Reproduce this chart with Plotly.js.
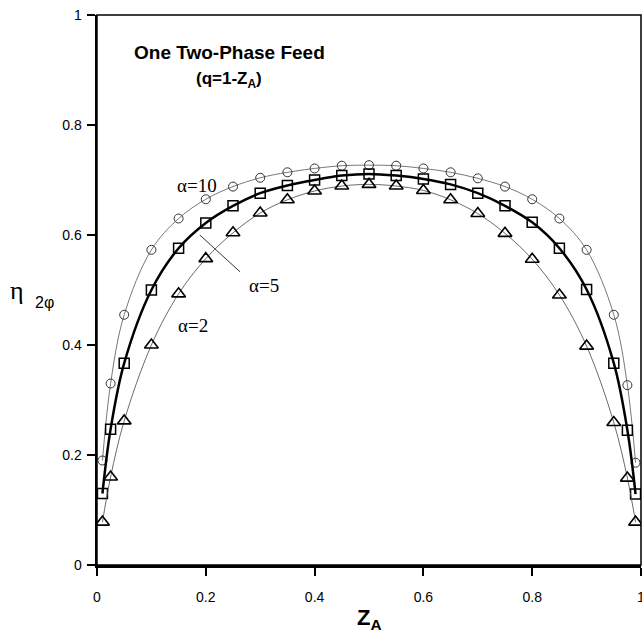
<!DOCTYPE html>
<html>
<head>
<meta charset="utf-8">
<script src="https://cdn.plot.ly/plotly-3.0.1.min.js"></script>
<style>html,body{margin:0;padding:0;background:#fff;}#chart{width:642px;height:638px;}</style>
</head>
<body>
<div id="chart"></div>
<script>
// Feed composition Z_A
var zA = [0.01, 0.025, 0.05, 0.1, 0.15, 0.2, 0.25, 0.3, 0.35, 0.4, 0.45, 0.5, 0.55, 0.6, 0.65, 0.7, 0.75, 0.8, 0.85, 0.9, 0.95, 0.975, 0.99];
// Efficiency eta_2phi for each relative volatility
var etaAlpha10 = [0.19, 0.33, 0.455, 0.573, 0.63, 0.665, 0.688, 0.704, 0.714, 0.721, 0.726, 0.727, 0.726, 0.721, 0.714, 0.703, 0.688, 0.665, 0.63, 0.573, 0.455, 0.327, 0.186];
var etaAlpha5 = [0.13, 0.247, 0.367, 0.50, 0.576, 0.622, 0.653, 0.676, 0.69, 0.70, 0.708, 0.711, 0.708, 0.702, 0.692, 0.676, 0.653, 0.623, 0.576, 0.501, 0.367, 0.245, 0.129];
var etaAlpha2 = [0.078, 0.16, 0.262, 0.40, 0.493, 0.557, 0.604, 0.64, 0.664, 0.68, 0.689, 0.692, 0.689, 0.681, 0.664, 0.639, 0.603, 0.556, 0.491, 0.398, 0.259, 0.158, 0.078];
var xTicks = [0, 0.2, 0.4, 0.6, 0.8, 1];
var yTicks = [0, 0.2, 0.4, 0.6, 0.8, 1];

var traces = [
  {x: zA, y: etaAlpha10, mode: 'lines+markers', line: {shape: 'spline', color: '#555', width: 0.8},
   marker: {symbol: 'circle-open', size: 9, color: '#333', line: {width: 1}}},
  {x: zA, y: etaAlpha5, mode: 'lines+markers', line: {shape: 'spline', color: '#000', width: 2.5},
   marker: {symbol: 'square-open', size: 10, color: '#000', line: {width: 1.5}}},
  {x: zA, y: etaAlpha2, mode: 'lines+markers', line: {shape: 'spline', color: '#444', width: 0.8},
   marker: {symbol: 'triangle-up-open', size: 12, color: '#000', line: {width: 1.6}}}
];

var tickFont = {family: 'Liberation Sans, Arial, sans-serif', size: 14, color: '#000'};
var serif = 'Liberation Serif, Times New Roman, serif';
var sans = 'Liberation Sans, Arial, sans-serif';
var layout = {
  width: 642, height: 638,
  margin: {l: 97, r: 1, t: 15, b: 73},
  paper_bgcolor: '#fff', plot_bgcolor: '#fff',
  showlegend: false,
  xaxis: {range: [0, 1], tickvals: xTicks, ticktext: xTicks.map(String), showgrid: false, zeroline: false,
          showline: true, linewidth: 2.5, linecolor: '#000', ticks: 'outside', ticklen: 8, tickwidth: 2,
          tickcolor: '#000', tickfont: tickFont, ticklabelstandoff: 10, ticklabeloverflow: 'allow'},
  yaxis: {range: [0, 1], tickvals: yTicks, ticktext: yTicks.map(String), showgrid: false, zeroline: false,
          showline: true, linewidth: 2.5, linecolor: '#000', ticks: 'outside', ticklen: 8, tickwidth: 2,
          tickcolor: '#000', tickfont: tickFont, ticklabelstandoff: 2, ticklabeloverflow: 'allow'},
  shapes: [
    {type: 'rect', xref: 'paper', yref: 'paper', x0: 0, x1: 1, y0: 0, y1: 1, line: {color: '#000', width: 1.5}},
    {type: 'line', xref: 'x', yref: 'y', x0: 0.189, y0: 0.60, x1: 0.263, y1: 0.533, line: {color: '#000', width: 0.8}}
  ],
  annotations: [
    {x: 0.243, y: 0.931, xref: 'x', yref: 'y', text: '<b>One Two-Phase Feed</b>', showarrow: false,
     font: {family: sans, size: 19, color: '#000'}},
    {x: 0.243, y: 0.882, xref: 'x', yref: 'y', text: '<b>(q=1-Z<sub>A</sub>)</b>', showarrow: false,
     font: {family: sans, size: 17, color: '#000'}},
    {x: 0.184, y: 0.69, xref: 'x', yref: 'y', text: 'α=10', showarrow: false,
     font: {family: serif, size: 19, color: '#000'}},
    {x: 0.307, y: 0.509, xref: 'x', yref: 'y', text: 'α=5', showarrow: false,
     font: {family: serif, size: 19, color: '#000'}},
    {x: 0.177, y: 0.435, xref: 'x', yref: 'y', text: 'α=2', showarrow: false,
     font: {family: serif, size: 19, color: '#000'}},
    {x: 0.5, y: -0.128, xref: 'x', yref: 'paper', yanchor: 'bottom', text: '<b>Z<sub>A</sub></b>', showarrow: false,
     font: {family: sans, size: 22, color: '#000'}},
    {x: -0.163, y: 0.5, xref: 'paper', yref: 'paper', text: 'η', showarrow: false,
     font: {family: serif, size: 26, color: '#000'}},
    {x: -0.117, y: 0.478, xref: 'paper', yref: 'paper', text: '2φ', showarrow: false,
     font: {family: sans, size: 16, color: '#000'}}
  ]
};

Plotly.newPlot('chart', traces, layout, {displayModeBar: false, staticPlot: true});
</script>
</body>
</html>
